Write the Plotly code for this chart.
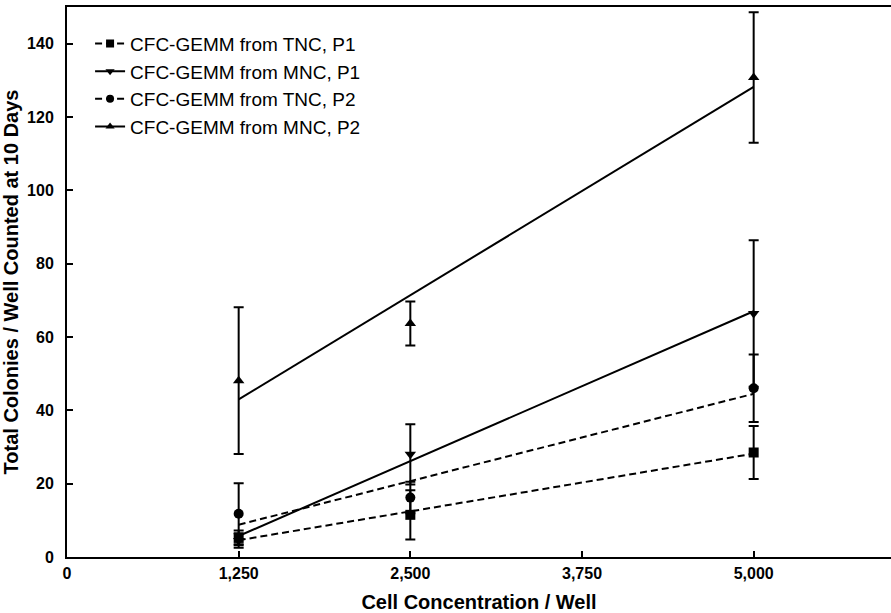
import numpy as np
import plotly.graph_objects as go

# ---- data ----
cell_conc = [1250, 2500, 5000]
series_names = ["CFC-GEMM from TNC, P1", "CFC-GEMM from MNC, P1",
                "CFC-GEMM from TNC, P2", "CFC-GEMM from MNC, P2"]
tnc_p1 = [5.2, 11.5, 28.5]
tnc_p1_err = [2.0, 6.7, 7.2]
mnc_p1 = [4.5, 28.0, 66.4]
mnc_p1_err = [2.0, 8.2, 20.0]
tnc_p2 = [11.8, 16.2, 46.0]
tnc_p2_err = [8.3, 4.3, 9.2]
mnc_p2 = [48.1, 63.7, 130.8]
mnc_p2_err = [20.0, 6.0, 17.8]
x_ticks = [0, 1250, 2500, 3750, 5000]
y_ticks = [0, 20, 40, 60, 80, 100, 120, 140]

values = [tnc_p1, mnc_p1, tnc_p2, mnc_p2]
errors = [tnc_p1_err, mnc_p1_err, tnc_p2_err, mnc_p2_err]
symbols = ["square", "triangle-down", "circle", "triangle-up"]
dashes = ["7px,4px", "solid", "7px,4px", "solid"]

FONT = "Liberation Sans, Arial, Helvetica, sans-serif"
fig = go.Figure()

for name, v, e, sym, d in zip(series_names, values, errors, symbols, dashes):
    # regression line
    slope, icpt = np.polyfit(cell_conc, v, 1)
    xs = [min(cell_conc), max(cell_conc)]
    fig.add_trace(go.Scatter(
        x=xs, y=[slope * x + icpt for x in xs], mode="lines",
        line=dict(color="black", width=2, dash=d), showlegend=False,
        hoverinfo="skip"))
    # data points with error bars
    fig.add_trace(go.Scatter(
        x=cell_conc, y=v, mode="markers",
        marker=dict(symbol=sym, size=10, color="black"),
        error_y=dict(type="data", array=e, visible=True, color="black",
                     thickness=2, width=5),
        showlegend=False))
    # legend entry
    fig.add_trace(go.Scatter(
        x=[None], y=[None], mode="lines+markers", name=name,
        line=dict(color="black", width=2, dash=d),
        marker=dict(symbol=sym, size=8, color="black")))

fig.update_layout(
    width=891, height=613,
    margin=dict(l=67, r=0, t=7, b=56),
    plot_bgcolor="white", paper_bgcolor="white",
    font=dict(family=FONT, color="black"),
    showlegend=True,
    legend=dict(x=0.028, y=0.968, xanchor="left", yanchor="top",
                bgcolor="rgba(0,0,0,0)", font=dict(size=19, family=FONT),
                itemwidth=30),
    xaxis=dict(range=[0, 6000], tickvals=x_ticks,
               ticktext=[f"{t:,}" for t in x_ticks],
               ticks="inside", ticklen=6, tickwidth=1.5, tickcolor="black",
               showline=True, linecolor="black", linewidth=2, mirror=True,
               showgrid=False, zeroline=False, automargin=False,
               tickfont=dict(size=16, family=FONT, weight="bold"),
               ticklabelstandoff=1,
               title=dict(text="<b>Cell Concentration / Well</b>",
                          font=dict(size=20, family=FONT), standoff=14)),
    yaxis=dict(range=[0, 150], tickvals=y_ticks,
               ticks="inside", ticklen=6, tickwidth=1.5, tickcolor="black",
               showline=True, linecolor="black", linewidth=2,
               showgrid=False, zeroline=False, automargin=False,
               tickfont=dict(size=16, family=FONT, weight="bold"),
               ticklabelstandoff=8,
               title=dict(text="<b>Total Colonies / Well Counted at 10 Days</b>",
                          font=dict(size=20, family=FONT), standoff=6)),
)

fig.write_html("out.html",
               config={"displayModeBar": False},
               post_script="document.body.style.margin='0';"
                           "document.body.style.overflow='hidden';")
